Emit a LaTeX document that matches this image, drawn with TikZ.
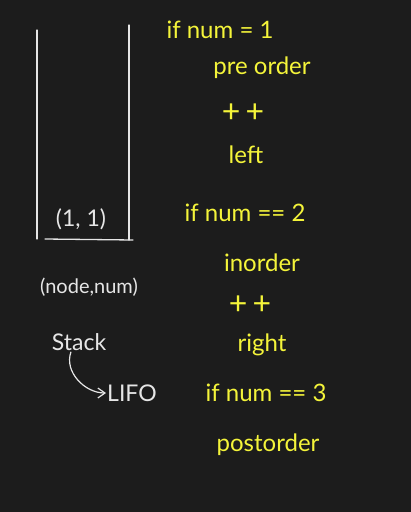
\documentclass[tikz,border=0pt]{standalone}
\usepackage{fontspec}
\setmainfont{Lato}
\usepackage{xcolor}
\definecolor{boardbg}{HTML}{1C1C1C}
\definecolor{chalkwhite}{HTML}{E6E6E6}
\definecolor{chalkyellow}{HTML}{F4F43A}
\usetikzlibrary{arrows.meta,positioning,calc}
\tikzset{
  yelnote/.style={text=chalkyellow,font=\fontsize{24}{26}\selectfont,inner sep=1pt},
  yelplus/.style={yelnote,font=\fontsize{32}{34}\selectfont},
  whnote/.style={text=chalkwhite,font=\fontsize{23}{25}\selectfont,inner sep=1pt},
  stackwall/.style={draw=chalkwhite,line width=1.3pt,line cap=round},
  hookflow/.style={-{Straight Barb[length=2.5mm,width=3.5mm]},draw=chalkwhite,line width=1.2pt},
}
\begin{document}
\begin{tikzpicture}[x=1pt,y=-1pt]
\fill[boardbg](0,0) rectangle (411,512);
\useasboundingbox (0,0) rectangle (411,512);
% stack container
\coordinate (tl) at (37,30);
\coordinate (bl) at (37,239);
\coordinate (tr) at (129,25);
\coordinate (br) at (129,240);
\draw[stackwall](tl)--(bl);
\draw[stackwall](tr)--(br);
\draw[stackwall]([xshift=8pt]bl)--([xshift=4pt]br);
\node[whnote](top) at (81,219){(1, 1)};
% labels under the stack
\node[whnote,font=\fontsize{20}{22}\selectfont](pair) at (89,287){(node,num)};
\node[whnote](stk) at (79,342){Stack};
\node[whnote,anchor=west](lifo) at (106,393){LIFO};
\draw[hookflow]([xshift=-8pt]stk.south) to[out=-110,in=180] (lifo.west);
% traversal steps
\node[yelnote](n1) at (220,30){if num = 1};
\node[yelnote](pre) at (262,68){pre order};
\node[yelplus](inc1) at (243,113){+\,+};
\node[yelnote](lft) at (246,155){left};
\node[yelnote](n2) at (245,213){if num == 2};
\node[yelnote](ino) at (262,263){inorder};
\node[yelplus](inc2) at (250,305){+\,+};
\node[yelnote](rgt) at (262,345){right};
\node[yelnote](n3) at (266,393){if num == 3};
\node[yelnote](post) at (268,445){postorder};
\end{tikzpicture}
\end{document}
